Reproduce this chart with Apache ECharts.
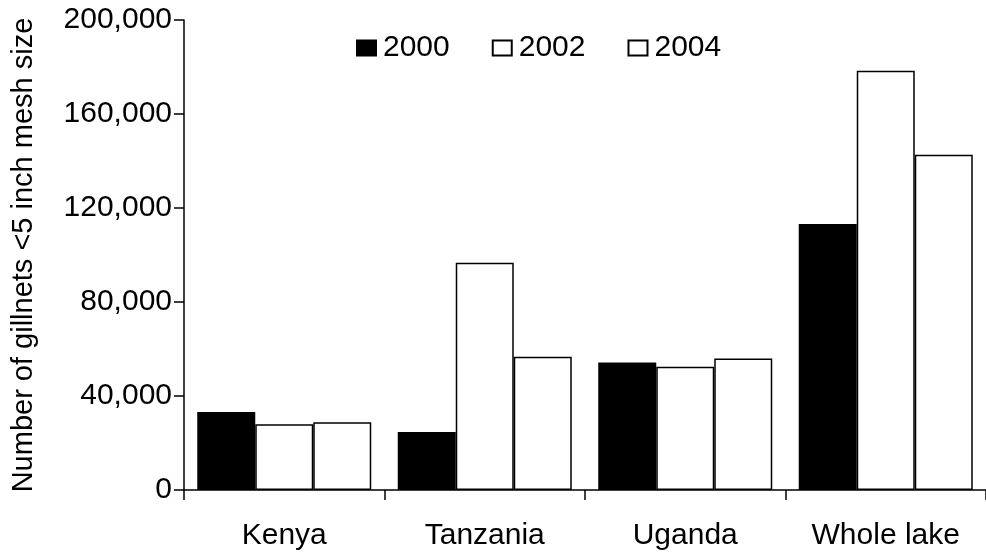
<!DOCTYPE html>
<html>
<head>
<meta charset="utf-8">
<script src="https://cdn.jsdelivr.net/npm/echarts@6/dist/echarts.min.js"></script>
<style>html,body{margin:0;padding:0;background:#fff;}#c{width:986px;height:558px;}</style>
</head>
<body>
<div id="c"></div>
<script>
var categories = ['Kenya', 'Tanzania', 'Uganda', 'Whole lake'];
var seriesNames = ['2000', '2002', '2004'];
var values2000 = [33200, 24700, 54300, 113200];
var values2002 = [28000, 96700, 52500, 178400];
var values2004 = [28800, 56700, 56000, 142700];
var yTicks = [0, 40000, 80000, 120000, 160000, 200000];
var yTitle = 'Number of gillnets <5 inch mesh size';

var FONT = '"Liberation Sans", Arial, sans-serif';
var chart = echarts.init(document.getElementById('c'), null, {renderer: 'canvas'});
function fmt(v){ return v.toString().replace(/\B(?=(\d{3})+(?!\d))/g, ','); }
function barSeries(name, data, fill){
  return {
    name: name, type: 'bar', data: data,
    barWidth: 58, barGap: '0%',
    itemStyle: {color: fill, borderColor: '#000', borderWidth: 1.5},
    emphasis: {disabled: true}
  };
}
chart.setOption({
  animation: false,
  backgroundColor: '#fff',
  textStyle: {fontFamily: FONT, color: '#000'},
  legend: {
    data: seriesNames,
    left: 351, top: 28,
    itemWidth: 19, itemHeight: 15, itemGap: 42,
    icon: 'rect',
    textStyle: {fontFamily: FONT, fontSize: 30, color: '#000', padding: [0,0,0,2]}
  },
  grid: {left: 184, right: -6, top: 20, bottom: 68, containLabel: false},
  xAxis: {
    type: 'category', data: categories,
    axisLine: {lineStyle: {color: '#000', width: 1.5}},
    axisTick: {show: true, length: 10, inside: false, alignWithLabel: false, lineStyle: {color: '#000', width: 1.5}},
    axisLabel: {fontFamily: FONT, fontSize: 30, color: '#000', margin: 31}
  },
  yAxis: {
    type: 'value', min: yTicks[0], max: yTicks[yTicks.length-1], interval: yTicks[1]-yTicks[0],
    name: yTitle, nameLocation: 'middle', nameRotate: 90, nameGap: 146,
    nameTextStyle: {fontFamily: FONT, fontSize: 29, color: '#000'},
    axisLine: {show: true, lineStyle: {color: '#000', width: 1.5}},
    axisTick: {show: true, length: 10, lineStyle: {color: '#000', width: 1.5}},
    splitLine: {show: false},
    axisLabel: {fontFamily: FONT, fontSize: 30, color: '#000', margin: 12, formatter: fmt}
  },
  series: [
    barSeries(seriesNames[0], values2000, '#000'),
    barSeries(seriesNames[1], values2002, '#fff'),
    barSeries(seriesNames[2], values2004, '#fff')
  ]
});
</script>
</body>
</html>
